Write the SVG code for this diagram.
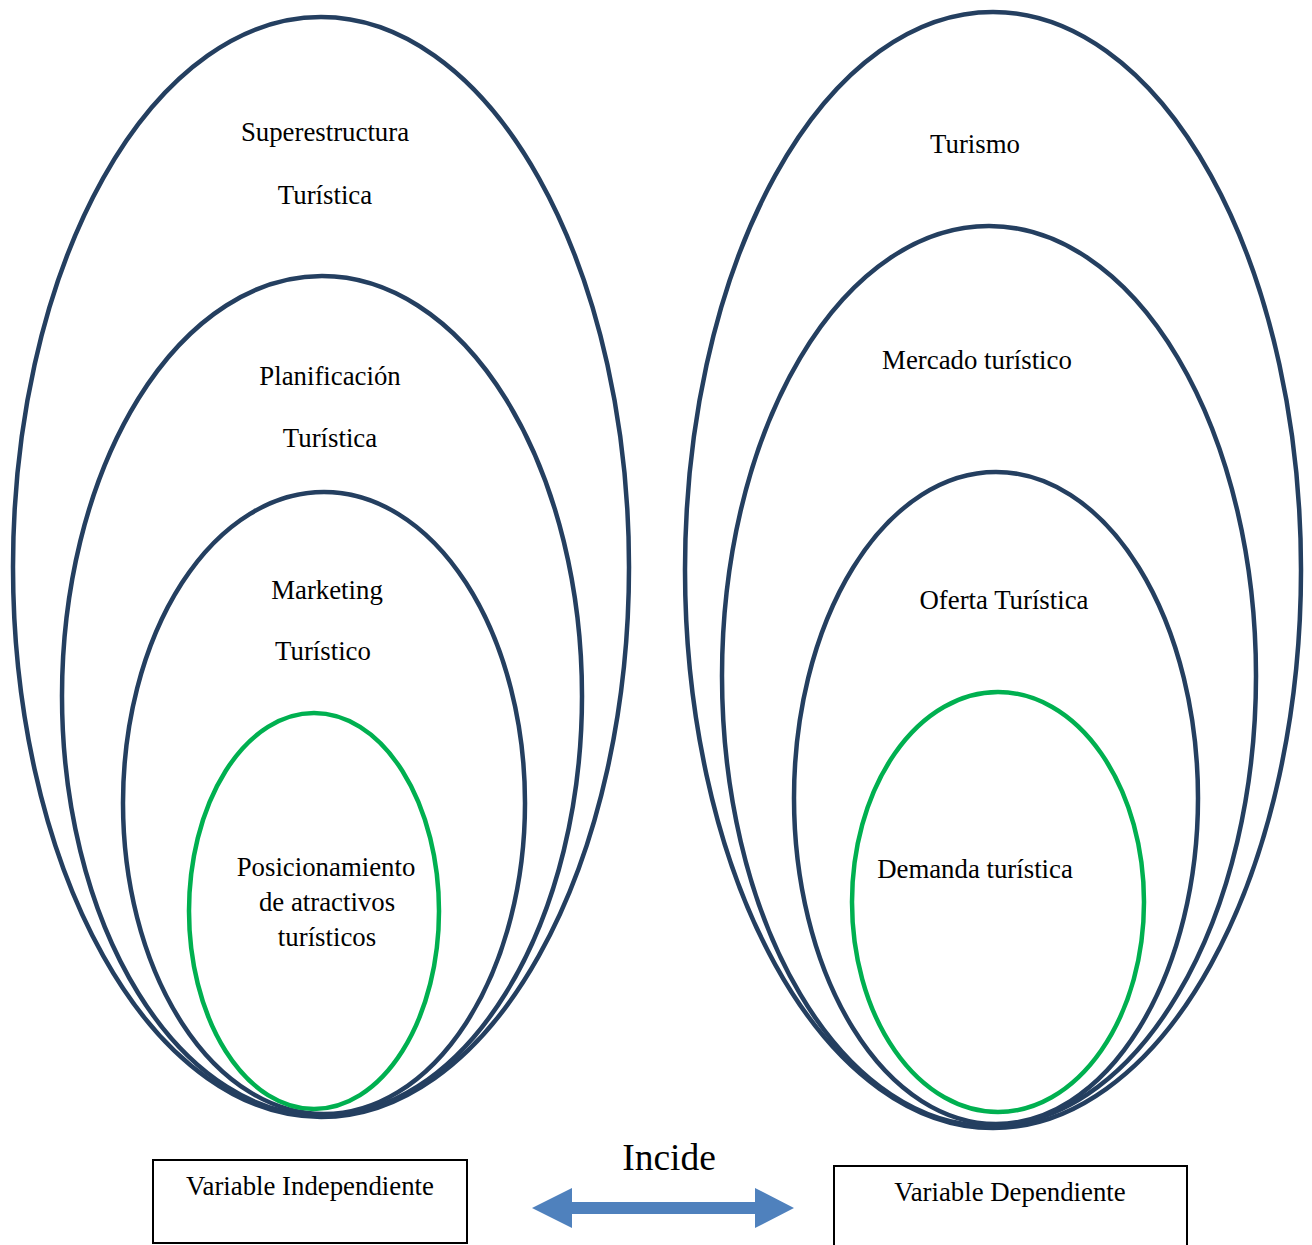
<svg xmlns="http://www.w3.org/2000/svg" width="1312" height="1245" viewBox="0 0 1312 1245">
<style>
.ring{fill:none;stroke:#243F60;stroke-width:4.5}
.core{fill:none;stroke:#00B050;stroke-width:4.5}
.t{font-family:"Liberation Serif","Times New Roman",serif;font-size:26.8px;fill:#000;text-anchor:middle}
.big{font-size:37.5px}
.box{fill:#fff;stroke:#000;stroke-width:2}
</style>
<rect width="1312" height="1245" fill="#fff"/>
<g id="superestructura">
<ellipse class="ring" cx="321" cy="567" rx="308" ry="550"/>
<text class="t" x="325" y="141">Superestructura</text>
<text class="t" x="325" y="204">Turística</text>
</g>
<g id="planificacion">
<ellipse class="ring" cx="322" cy="696" rx="260" ry="420"/>
<text class="t" x="330" y="385">Planificación</text>
<text class="t" x="330" y="447">Turística</text>
</g>
<g id="marketing">
<ellipse class="ring" cx="324" cy="803" rx="201" ry="311"/>
<text class="t" x="327" y="599">Marketing</text>
<text class="t" x="323" y="660">Turístico</text>
</g>
<g id="posicionamiento">
<ellipse class="core" cx="314" cy="911" rx="125" ry="198"/>
<text class="t" x="326" y="876">Posicionamiento</text>
<text class="t" x="327" y="911">de atractivos</text>
<text class="t" x="327" y="946">turísticos</text>
</g>
<g id="turismo">
<ellipse class="ring" cx="993" cy="570" rx="308" ry="558"/>
<text class="t" x="975" y="153">Turismo</text>
</g>
<g id="mercado">
<ellipse class="ring" cx="989" cy="676" rx="267" ry="450"/>
<text class="t" x="977" y="369">Mercado turístico</text>
</g>
<g id="oferta">
<ellipse class="ring" cx="996" cy="798" rx="202" ry="326"/>
<text class="t" x="1004" y="609">Oferta Turística</text>
</g>
<g id="demanda">
<ellipse class="core" cx="998" cy="902" rx="146" ry="210"/>
<text class="t" x="975" y="878">Demanda turística</text>
</g>
<g id="variable-independiente">
<rect class="box" x="153" y="1160" width="314" height="83"/>
<text class="t" x="310" y="1195">Variable Independiente</text>
</g>
<g id="variable-dependiente">
<rect class="box" x="834" y="1166" width="353" height="86"/>
<text class="t" x="1010" y="1201">Variable Dependiente</text>
</g>
<g id="connectors">
<polygon fill="#4F81BD" points="532,1208 572,1188 572,1202 755,1202 755,1188 794,1208 755,1228 755,1214 572,1214 572,1228"/>
<text class="t big" x="669" y="1170">Incide</text>
</g>
</svg>
